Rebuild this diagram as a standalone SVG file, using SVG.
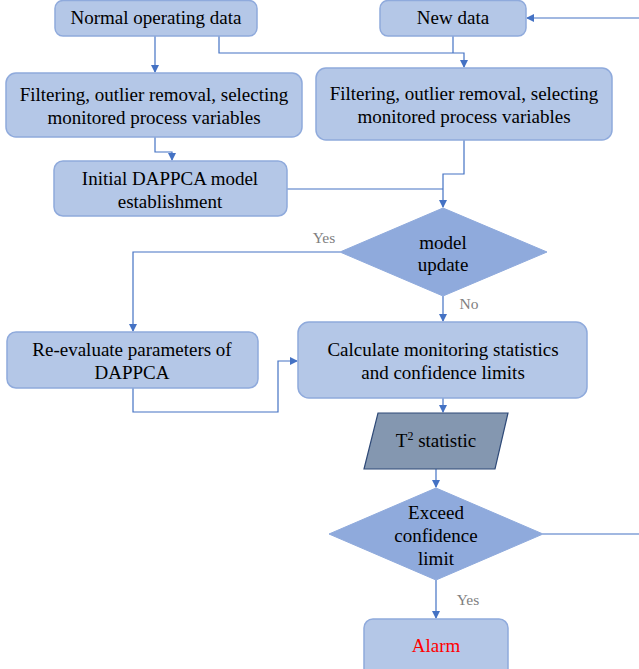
<svg xmlns="http://www.w3.org/2000/svg" width="639" height="669" viewBox="0 0 639 669">
<style>
.box{fill:#B4C7E7;stroke:#8FAADC;stroke-width:1.5}
.dia{fill:#8FAADC;stroke:#8FAADC;stroke-width:1}
.par{fill:#8497B0;stroke:#2F4A78;stroke-width:1.2}
.t{font-family:'Liberation Serif','Times New Roman','DejaVu Serif',serif;font-size:19px;fill:#000;text-anchor:middle}
.lbl{font-family:'Liberation Serif','Times New Roman','DejaVu Serif',serif;font-size:15.5px;fill:#808080;text-anchor:middle}
.c{fill:none;stroke:#4472C4;stroke-width:1.2}
</style>
<defs>
<marker id="ah" markerWidth="8" markerHeight="8" refX="7" refY="4" orient="auto" markerUnits="userSpaceOnUse">
<path d="M0,0 L8,4 L0,8 z" fill="#4472C4"/>
</marker>
</defs>
<rect width="639" height="669" fill="#fff"/>
<g id="connectors">
<path class="c" d="M155,36 V72" marker-end="url(#ah)"/>
<path class="c" d="M219,36 V53 H464 V67" marker-end="url(#ah)"/>
<path class="c" d="M453,36 V53"/>
<path class="c" d="M639,18 H527" marker-end="url(#ah)"/>
<path class="c" d="M155,137 V152 H172 V160" marker-end="url(#ah)"/>
<path class="c" d="M464,140 V174 H443 V207" marker-end="url(#ah)"/>
<path class="c" d="M287,189 H443"/>
<path class="c" d="M340,252 H133 V331" marker-end="url(#ah)"/>
<path class="c" d="M443,296 V321" marker-end="url(#ah)"/>
<path class="c" d="M133,388 V412 H278 V361 H297" marker-end="url(#ah)"/>
<path class="c" d="M443,398 V412" marker-end="url(#ah)"/>
<path class="c" d="M436,469 V487" marker-end="url(#ah)"/>
<path class="c" d="M543,534 H639"/>
<path class="c" d="M436,580 V618" marker-end="url(#ah)"/>
<text class="lbl" x="324" y="243">Yes</text>
<text class="lbl" x="469" y="309">No</text>
<text class="lbl" x="468" y="605">Yes</text>
</g>
<g id="normal">
<rect class="box" x="55" y="0.5" width="202" height="35.5" rx="8"/>
<text class="t" x="156" y="24">Normal operating data</text>
</g>
<g id="newdata">
<rect class="box" x="380" y="0.5" width="146" height="35.5" rx="8"/>
<text class="t" x="453" y="24">New data</text>
</g>
<g id="filter1">
<rect class="box" x="6" y="73" width="296" height="64" rx="10"/>
<text class="t" x="154" y="101">Filtering, outlier removal, selecting</text>
<text class="t" x="154" y="124">monitored process variables</text>
</g>
<g id="filter2">
<rect class="box" x="316" y="68" width="296" height="72" rx="10"/>
<text class="t" x="464" y="100">Filtering, outlier removal, selecting</text>
<text class="t" x="464" y="123">monitored process variables</text>
</g>
<g id="initial">
<rect class="box" x="54" y="161" width="233" height="55" rx="9"/>
<text class="t" x="170" y="185">Initial DAPPCA model</text>
<text class="t" x="170" y="208">establishment</text>
</g>
<g id="update">
<polygon class="dia" points="443,208 547,252 443,296 340,252"/>
<text class="t" x="443" y="249">model</text>
<text class="t" x="443" y="271">update</text>
</g>
<g id="reeval">
<rect class="box" x="7" y="332" width="251" height="56" rx="9"/>
<text class="t" x="132" y="356">Re-evaluate parameters of</text>
<text class="t" x="132" y="379">DAPPCA</text>
</g>
<g id="calc">
<rect class="box" x="298" y="322" width="289" height="76" rx="11"/>
<text class="t" x="443" y="356">Calculate monitoring statistics</text>
<text class="t" x="443" y="379">and confidence limits</text>
</g>
<g id="t2">
<polygon class="par" points="378,413 508,413 495,469 364,469"/>
<text class="t" x="436" y="447">T<tspan font-size="12" dy="-7">2</tspan><tspan dy="7"> statistic</tspan></text>
</g>
<g id="exceed">
<polygon class="dia" points="436,488 543,534 436,580 329,534"/>
<text class="t" x="436" y="519">Exceed</text>
<text class="t" x="436" y="542">confidence</text>
<text class="t" x="436" y="565">limit</text>
</g>
<g id="alarm">
<rect class="box" x="364" y="619" width="144" height="60" rx="9"/>
<text class="t" x="436" y="652" style="fill:#FF0000">Alarm</text>
</g>
</svg>
